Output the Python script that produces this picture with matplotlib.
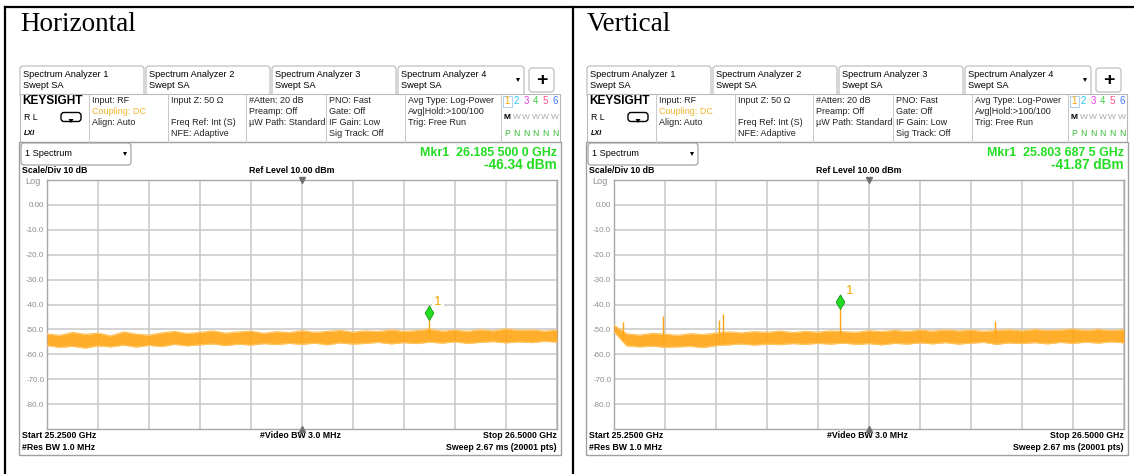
import numpy as np
import matplotlib
matplotlib.use("Agg")
import matplotlib.pyplot as plt
from matplotlib.patches import Rectangle, FancyBboxPatch, Polygon
from matplotlib.path import Path

# ── Data ───────────────────────────────────────────────────────────────────────

W, H = 1134, 474
START_GHZ, STOP_GHZ = 25.25, 26.50
REF_DBM = 10.0

panel_titles = ["Horizontal", "Vertical"]
tab_names = ["Spectrum Analyzer 1", "Spectrum Analyzer 2",
             "Spectrum Analyzer 3", "Spectrum Analyzer 4"]
y_ticks = [0, -10, -20, -30, -40, -50, -60, -70, -80]
y_tick_labels = ["0.00", "-10.0", "-20.0", "-30.0", "-40.0",
                 "-50.0", "-60.0", "-70.0", "-80.0"]

mkr_freq_ghz = [26.1855, 25.8036875]
mkr_level_dbm = [-46.34, -41.87]
mkr_freq_text = ["26.185 500 0 GHz", "25.803 687 5 GHz"]
mkr_level_text = ["-46.34 dBm", "-41.87 dBm"]

# noise envelope (peak / dip) read along the sweep, 41 samples each
horiz_hi = [-51.8, -52.4, -51.2, -52.0, -51.5, -52.6, -51.0, -51.9, -52.3, -51.4,
            -50.8, -51.7, -51.2, -50.6, -51.5, -51.0, -50.7, -51.6, -50.9, -51.3,
            -50.5, -51.2, -50.8, -50.4, -51.1, -50.6, -50.9, -50.2, -50.8, -50.5,
            -49.9, -50.7, -50.3, -50.8, -50.1, -50.6, -49.8, -50.4, -50.2, -50.7, -50.3]
horiz_lo = [-56.5, -57.2, -56.8, -57.5, -56.6, -57.0, -56.3, -57.1, -56.4, -56.9,
            -56.0, -56.6, -56.2, -55.8, -56.5, -55.9, -56.3, -55.7, -56.1, -55.6,
            -56.0, -55.5, -56.2, -55.4, -55.9, -55.6, -55.2, -55.8, -55.3, -55.7,
            -55.1, -55.5, -55.0, -55.6, -55.2, -54.9, -55.4, -55.0, -55.3, -54.8, -55.1]
vert_hi = [-48.3, -51.8, -52.3, -51.6, -51.9, -52.4, -51.7, -52.1, -51.5, -51.0,
           -51.4, -50.9, -51.2, -50.7, -51.3, -50.8, -51.1, -50.6, -50.9, -51.2,
           -50.5, -50.9, -50.4, -50.8, -50.3, -50.7, -50.2, -50.6, -50.3, -50.8,
           -50.4, -50.1, -50.6, -50.0, -50.5, -50.2, -49.9, -50.4, -50.0, -50.5, -50.1]
vert_lo = [-51.0, -56.6, -57.0, -56.7, -57.2, -57.0, -56.8, -57.3, -56.5, -56.2,
           -55.8, -56.3, -55.9, -56.1, -55.7, -56.0, -55.6, -55.9, -55.5, -56.0,
           -55.7, -56.2, -55.6, -55.9, -55.4, -55.8, -55.3, -55.9, -55.5, -55.2,
           -56.0, -55.4, -55.7, -55.3, -55.8, -55.2, -55.6, -55.1, -55.5, -55.0, -55.4]

# spurs: frequency, top level, level of the noise below
horiz_spur_ghz = [26.1855]
horiz_spur_top = [-46.34]
horiz_spur_base = [-53.0]
vert_spur_ghz = [25.273, 25.369, 25.507, 25.518, 25.8037, 26.184]
vert_spur_top = [-47.0, -44.6, -46.4, -43.8, -41.87, -46.6]
vert_spur_base = [-54.0, -54.5, -54.0, -54.0, -53.0, -53.0]

# ── Style ──────────────────────────────────────────────────────────────────────

SANS = ["Liberation Sans", "DejaVu Sans"]
SERIF = ["Liberation Serif", "DejaVu Serif"]
TRACE = "#ffa514"
FRINGE = "#ffc45e"
GREEN = "#22dd22"
GRID = "#c8c8c8"
FRAME = "#a8a8a8"

fig = plt.figure(figsize=(W / 100, H / 100), dpi=100)
bg = fig.add_axes([0, 0, 1, 1])
bg.set_xlim(0, W)
bg.set_ylim(H, 0)
bg.axis("off")


def txt(x, y, s, size=6.6, color="black", weight="normal", ha="left", **kw):
    bg.text(x, y, s, fontsize=size, color=color, fontweight=weight, ha=ha,
            va="center", family=SANS, **kw)


def tri(x, y, w, h, color, down=True):
    s = 1 if down else -1
    bg.add_patch(Polygon([(x - w / 2, y - s * h / 2), (x + w / 2, y - s * h / 2),
                          (x, y + s * h / 2)], closed=True, color=color, lw=0))


# table lines
bg.plot([5, W], [7, 7], color="black", lw=1.6)
bg.plot([5, 5], [7, H], color="black", lw=1.6)
bg.plot([573, 573], [7, H], color="black", lw=1.6)

# plot area in pixels (left panel)
GX0, GX1, GY0, GY1 = 47, 557, 180, 429

panels = [
    (horiz_hi, horiz_lo, horiz_spur_ghz, horiz_spur_top, horiz_spur_base),
    (vert_hi, vert_lo, vert_spur_ghz, vert_spur_top, vert_spur_base),
]

for p, (hi, lo, sp_f, sp_top, sp_base) in enumerate(panels):
    dx = 567 * p

    bg.text(20 + dx, 24, panel_titles[p], fontsize=19.5, family=SERIF,
            va="center", ha="left")

    # tabs
    for i, name in enumerate(tab_names):
        x = 20 + dx + i * 126
        bg.add_patch(FancyBboxPatch((x, 66), 124 if i < 3 else 126, 32,
                                    boxstyle="round,pad=0,rounding_size=3",
                                    fc="white", ec="#b8b8b8", lw=0.8))
        txt(x + 3, 74, name, size=6.7)
        txt(x + 3, 85, "Swept SA", size=6.7)
    tri(518 + dx, 80, 4, 4, "black")
    bg.add_patch(FancyBboxPatch((529 + dx, 68), 25, 24,
                                boxstyle="round,pad=0,rounding_size=3",
                                fc="white", ec="#b8b8b8", lw=0.8))
    txt(541.5 + dx, 80, "+", size=14, weight="bold", ha="center")

    # header block
    bg.add_patch(Rectangle((20 + dx, 94), 540, 48, fc="white", ec="#b8b8b8", lw=0.8))
    for sx in [89, 168, 246, 326, 405, 501]:
        bg.plot([sx + dx, sx + dx], [94, 142], color="#c8c8c8", lw=0.7)
    txt(22 + dx, 100.5, "KEYSIGHT", size=8.6, weight="bold")
    txt(24 + dx, 117, "R L", size=6.3)
    bg.add_patch(FancyBboxPatch((61 + dx, 112.5), 20, 9,
                                boxstyle="round,pad=0,rounding_size=3",
                                fc="white", ec="black", lw=1.0))
    tri(71 + dx, 121, 5, 4, "black")
    txt(24 + dx, 133.5, "LXI", size=5.2, style="italic", weight="bold")

    rows = [100, 111, 122, 133]
    cols = {
        89: ["Input: RF", "Coupling: DC", "Align: Auto", ""],
        168: ["Input Z: 50 \u03a9", "", "Freq Ref: Int (S)", "NFE: Adaptive"],
        246: ["#Atten: 20 dB", "Preamp: Off", "\u00b5W Path: Standard", ""],
        326: ["PNO: Fast", "Gate: Off", "IF Gain: Low", "Sig Track: Off"],
        405: ["Avg Type: Log-Power", "Avg|Hold:>100/100", "Trig: Free Run", ""],
    }
    for cx, lines in cols.items():
        for r, s in zip(rows, lines):
            col = "#f2b22a" if s.startswith("Coupling") else "#222222"
            txt(cx + 3 + dx, r, s, size=6.5, color=col)

    trace_cols = ["#f5a300", "#22c4f0", "#e040e0", "#44cc44", "#ff4f86", "#3a7bff"]
    for k, c in enumerate(trace_cols):
        txt(507 + 9.6 * k + dx, 101, str(k + 1), size=7, color=c, ha="center")
    bg.add_patch(Rectangle((502.5 + dx, 95.5), 9, 11, fc="none", ec="#a0c8e8", lw=0.6))
    txt(507 + dx, 117, "M", size=6, weight="bold", ha="center")
    txt(507 + dx, 133, "P", size=6.2, color="#33bb33", ha="center")
    for k in range(1, 6):
        txt(507 + 9.6 * k + dx, 117, "W", size=6, color="#a8a8a8", ha="center")
        txt(507 + 9.6 * k + dx, 133, "N", size=6.2, color="#33bb33", ha="center")

    # screen frame
    bg.add_patch(Rectangle((19 + dx, 142), 542, 313, fc="none", ec="#a0a0a0", lw=1.0))
    bg.add_patch(FancyBboxPatch((21 + dx, 143), 110, 22,
                                boxstyle="round,pad=0,rounding_size=3",
                                fc="white", ec="#999999", lw=0.8))
    txt(25 + dx, 154, "1 Spectrum", size=6.6)
    tri(125 + dx, 154, 4, 4, "black")

    txt(557 + dx, 152.5, "Mkr1  " + mkr_freq_text[p], size=8.9, color=GREEN,
        weight="bold", ha="right")
    txt(557 + dx, 165, mkr_level_text[p], size=9.8, color=GREEN,
        weight="bold", ha="right")
    txt(22 + dx, 170.5, "Scale/Div 10 dB", size=6.3, weight="bold")
    txt(292 + dx, 170.5, "Ref Level 10.00 dBm", size=6.3, weight="bold", ha="center")
    txt(25 + dx, 181, "Log", size=6.6, color="#909090")

    txt(22 + dx, 435.5, "Start 25.2500 GHz", size=6.3, weight="bold")
    txt(300 + dx, 435.5, "#Video BW 3.0 MHz", size=6.3, weight="bold", ha="center")
    txt(557 + dx, 435.5, "Stop 26.5000 GHz", size=6.3, weight="bold", ha="right")
    txt(22 + dx, 447, "#Res BW 1.0 MHz", size=6.3, weight="bold")
    txt(557 + dx, 447, "Sweep 2.67 ms (20001 pts)", size=6.3, weight="bold", ha="right")

    # graticule
    ax = fig.add_axes([(GX0 + dx) / W, 1 - GY1 / H, (GX1 - GX0) / W, (GY1 - GY0) / H])
    ax.set_xlim(START_GHZ, STOP_GHZ)
    ax.set_ylim(REF_DBM - 100, REF_DBM)
    ax.set_xticks(np.linspace(START_GHZ, STOP_GHZ, 11))
    ax.set_yticks(y_ticks)
    ax.set_yticklabels(y_tick_labels, fontsize=5.8, color="#8c8c8c", family=SANS)
    ax.set_xticklabels([])
    ax.tick_params(length=0, pad=2)
    ax.grid(True, color=GRID, lw=1.1)
    for s in ax.spines.values():
        s.set_color(FRAME)
        s.set_linewidth(1.0)

    freq = np.linspace(START_GHZ, STOP_GHZ, len(hi))
    ax.fill_between(freq, lo, hi, color=TRACE, lw=0, alpha=0.9, zorder=3)
    ax.plot(freq, hi, color=FRINGE, lw=0.9, zorder=3)
    ax.plot(freq, lo, color=FRINGE, lw=0.9, zorder=3)
    ax.vlines(sp_f, sp_base, sp_top, color=TRACE, lw=1.0, zorder=3)

    diamond = Path([(0, 0), (0.6, 1), (0, 2), (-0.6, 1), (0, 0)])
    ax.plot([mkr_freq_ghz[p]], [mkr_level_dbm[p]], marker=diamond, ms=21,
            mfc=GREEN, mec="#119911", mew=0.6, zorder=5, clip_on=False)
    ax.annotate("1", (mkr_freq_ghz[p], mkr_level_dbm[p]), xytext=(4, 13),
                textcoords="offset points", fontsize=9.5, color="#f5a300",
                family=SANS, va="center", ha="left", zorder=6,
                bbox=dict(fc="white", ec="none", pad=1.5))

    mid = (START_GHZ + STOP_GHZ) / 2
    ax.plot([mid], [REF_DBM], marker="v", ms=4, color="#707070", zorder=6, clip_on=False)
    ax.plot([mid], [REF_DBM - 100], marker="^", ms=4, color="#707070", zorder=6,
            clip_on=False)

fig.savefig("out.png", dpi=100)
